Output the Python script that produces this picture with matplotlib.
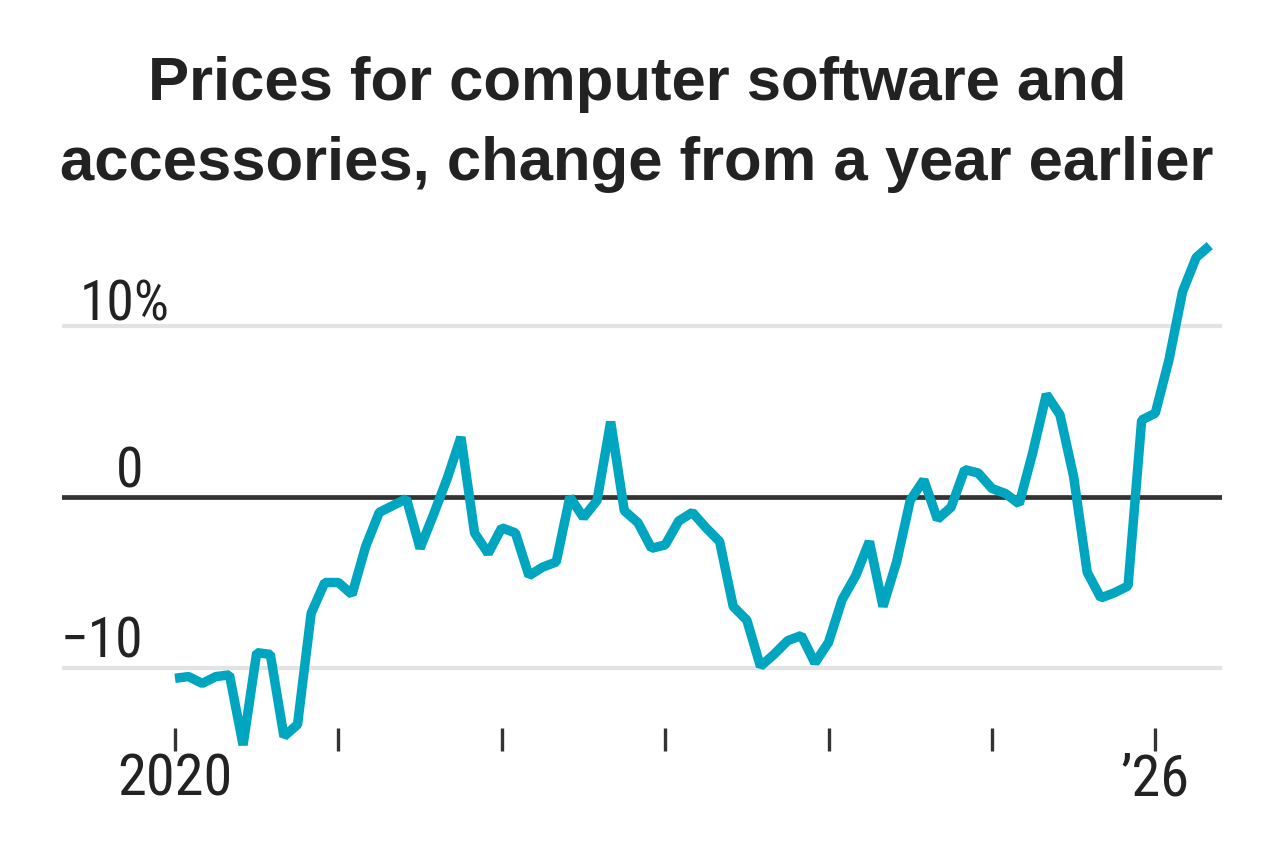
import numpy as np
import matplotlib
matplotlib.use("Agg")
import matplotlib.pyplot as plt
from matplotlib import font_manager as fm

# ---------------- data (year-over-year % change, monthly from Jan 2020) -------------
yoy = [
    -10.6, -10.5, -10.9, -10.5, -10.4, -14.5, -9.1, -9.2, -14.0, -13.3,   # 2020
    -6.8, -5.0,
    -5.0, -5.7, -2.9, -0.9, -0.5, -0.1, -3.0, -1.0, 1.1, 3.5,             # 2021
    -2.1, -3.3,
    -1.8, -2.1, -4.6, -4.1, -3.8, 0.0, -1.2, -0.2, 4.4, -0.8,             # 2022
    -1.5, -3.0,
    -2.8, -1.4, -0.9, -1.8, -2.6, -6.4, -7.2, -9.9, -9.2, -8.4,           # 2023
    -8.1, -9.7,
    -8.5, -6.0, -4.6, -2.6, -6.4, -3.8, -0.2, 1.0, -1.3, -0.6,            # 2024
    1.6, 1.4,
    0.5, 0.2, -0.4, 2.6, 6.0, 4.8, 1.2, -4.4, -5.9, -5.6,                 # 2025
    -5.2, 4.5,
    4.9, 8.0, 12.0, 14.0, 14.7,                                           # 2026
]
year_tick_pos = [0, 12, 24, 36, 48, 60, 72]
year_tick_labels = ["2020", "", "", "", "", "", "\u201926"]
grid_values = [10, -10]
ylabel_values = [10, 0, -10]
ylabel_texts = ["10%", "0", "\u221210"]

title_lines = ["Prices for computer software and",
               "accessories, change from a year earlier"]

# ---------------- fonts -------------
names = {f.name for f in fm.fontManager.ttflist}
narrow = next((n for n in ["Liberation Sans Narrow", "Roboto Condensed",
                           "Open Sans Condensed", "Noto Sans Condensed"] if n in names), None)
if narrow:
    lab_font = dict(family=narrow, weight="normal")
    xlab_size, ylab_size = 42, 40
else:
    lab_font = dict(family="Roboto", weight="light")
    xlab_size, ylab_size = 37, 36
title_font = dict(family="Liberation Sans", weight="bold", size=44.4)

TEXT = "#222222"
LINE = "#00a5c0"

# ---------------- figure -------------
W, H = 1280, 855
fig = plt.figure(figsize=(W / 100, H / 100), dpi=100)
fig.patch.set_facecolor("white")

ax_left, ax_right, ax_top, ax_bot = 62, 1222, 230, 751
ax = fig.add_axes([ax_left / W, 1 - ax_bot / H, (ax_right - ax_left) / W, (ax_bot - ax_top) / H])

x = np.arange(len(yoy))
ax.plot(x, yoy, color=LINE, lw=6.8, solid_joinstyle="bevel", solid_capstyle="butt",
        zorder=3, clip_on=False)

for g in grid_values:
    ax.axhline(g, color="#e3e3e3", lw=3.0, zorder=1)
ax.axhline(0, color="#333333", lw=3.4, zorder=2)

ax.set_xlim(-8.3, 76.9)
ax.set_ylim(-14.85, 15.61)

for s in ax.spines.values():
    s.set_visible(False)

ax.set_xticks(year_tick_pos)
ax.set_xticklabels(year_tick_labels, fontsize=xlab_size, color=TEXT, **lab_font)
ax.tick_params(axis="x", direction="in", length=16.5, width=2.4, color="#333333", pad=1)
for lbl in ax.get_xticklabels():
    lbl.set_x(lbl.get_position()[0])
ax.set_yticks([])

# y labels
ylab_x = [0.0155, 0.0698, 0.0698]
ylab_ha = ["left", "right", "right"]
ylab_dy = [4.0, 7.0, 7.5]  # points above the line
for v, t, xx, ha, dy in zip(ylabel_values, ylabel_texts, ylab_x, ylab_ha, ylab_dy):
    ax.annotate(t, xy=(xx, v), xycoords=("axes fraction", "data"),
                xytext=(0, dy), textcoords="offset points",
                ha=ha, va="baseline", fontsize=ylab_size, color=TEXT, **lab_font)

# title
fig.text(637 / W, 1 - 100 / H, title_lines[0], ha="center", va="baseline",
         color=TEXT, **title_font)
fig.text(637 / W, 1 - 180 / H, title_lines[1], ha="center", va="baseline",
         color=TEXT, **title_font)

fig.savefig("out.png", dpi=100, facecolor="white")
